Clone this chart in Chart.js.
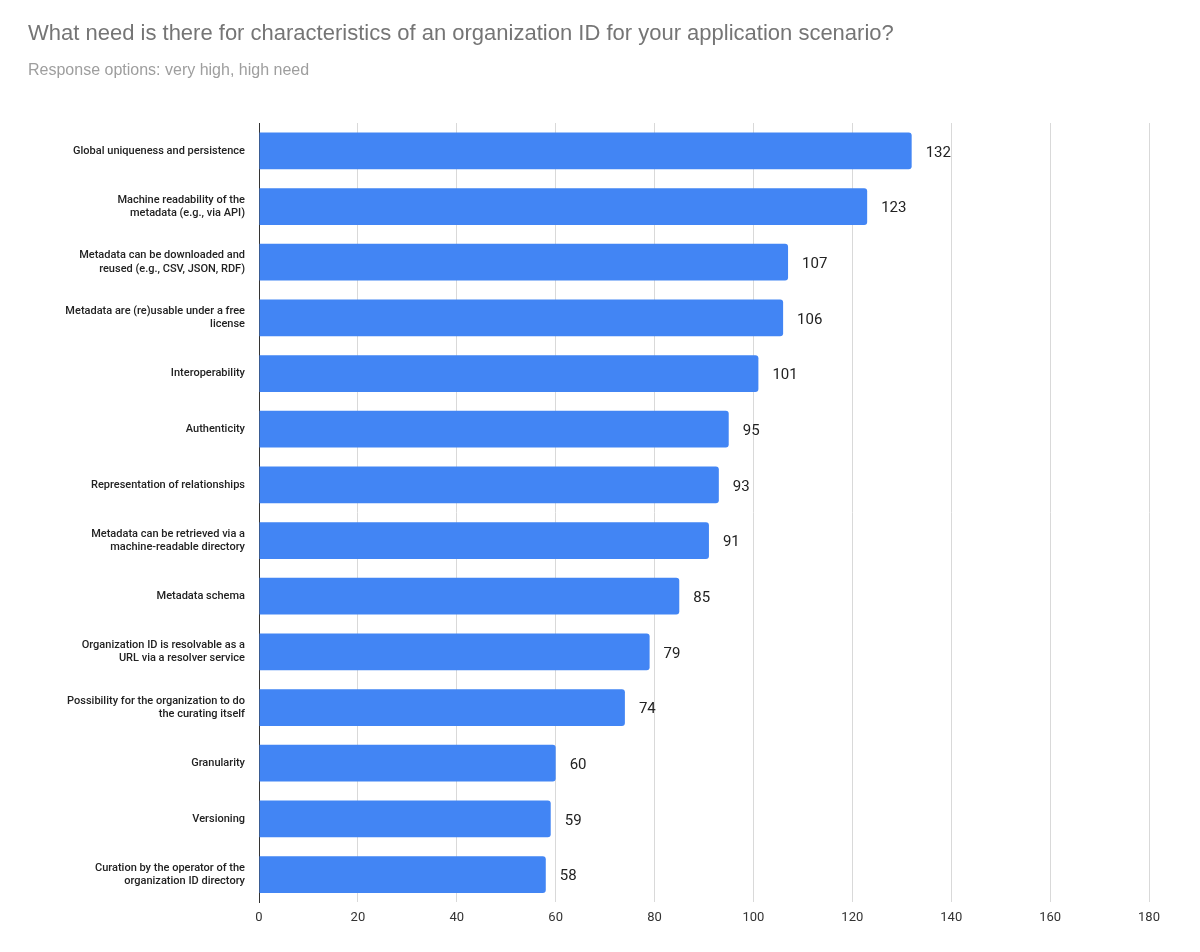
<!DOCTYPE html>
<html>
<head>
<meta charset="utf-8">
<script src="https://cdn.jsdelivr.net/npm/chart.js@4"></script>
<style>
  body { margin: 0; background: #fff; }
  #wrap { position: relative; width: 1200px; height: 952px; }
  #titulo { position: absolute; left: 28px; top: 20px; font: 22px "Liberation Sans", Arial, sans-serif; color: #757575; }
  #sub { position: absolute; left: 28px; top: 61px; font: 16px "Liberation Sans", Arial, sans-serif; color: #9e9e9e; }
  canvas { position: absolute; left: 0; top: 0; }
</style>
</head>
<body>
<div id="wrap">
  <canvas id="myChart" width="1200" height="952"></canvas>
  <div id="titulo">What need is there for characteristics of an organization ID for your application scenario?</div>
  <div id="sub">Response options: very high, high need</div>
</div>
<script>
var categorias = [
    ["Global uniqueness and persistence"],
    ["Machine readability of the", "metadata (e.g., via API)"],
    ["Metadata can be downloaded and", "reused (e.g., CSV, JSON, RDF)"],
    ["Metadata are (re)usable under a free", "license"],
    ["Interoperability"],
    ["Authenticity"],
    ["Representation of relationships"],
    ["Metadata can be retrieved via a", "machine-readable directory"],
    ["Metadata schema"],
    ["Organization ID is resolvable as a", "URL via a resolver service"],
    ["Possibility for the organization to do", "the curating itself"],
    ["Granularity"],
    ["Versioning"],
    ["Curation by the operator of the", "organization ID directory"]
];
var valores = [132, 123, 107, 106, 101, 95, 93, 91, 85, 79, 74, 60, 59, 58];

var rotulos = {
    id: "rotulos",
    afterDatasetsDraw: function (chart) {
        var ctx = chart.ctx;
        var meta = chart.getDatasetMeta(0);
        ctx.save();
        ctx.font = "15px Roboto, sans-serif";
        ctx.fillStyle = "#222";
        ctx.textBaseline = "middle";
        meta.data.forEach(function (bar, i) {
            ctx.fillText(String(valores[i]), bar.x + 14, bar.y + 2);
        });
        ctx.restore();
    }
};

var ctx = document.getElementById("myChart").getContext("2d");
var myChart = new Chart(ctx, {
    type: 'bar',
    data: {
        labels: categorias,
        datasets: [{
            data: valores,
            backgroundColor: "#4285f4",
            borderRadius: 3,
            barPercentage: 0.66,
            categoryPercentage: 1
        }]
    },
    options: {
        indexAxis: 'y',
        responsive: false,
        animation: { duration: 0 },
        layout: { padding: { top: 123, right: 51, bottom: 18, left: 0 } },
        plugins: { legend: { display: false }, tooltip: { enabled: false } },
        scales: {
            x: {
                min: 0, max: 180,
                ticks: { stepSize: 20, color: "#333", font: { size: 13, family: "Roboto" }, padding: 8 },
                grid: { color: "#d9d9d9", drawTicks: false },
                border: { display: false }
            },
            y: {
                afterFit: function (scale) { scale.width = 259; },
                ticks: { color: "#222", font: { size: 11, family: "Roboto", weight: "500" }, padding: 6 },
                grid: { display: false },
                border: { color: "#333", width: 1 }
            }
        }
    },
    plugins: [rotulos]
});
</script>
</body>
</html>
